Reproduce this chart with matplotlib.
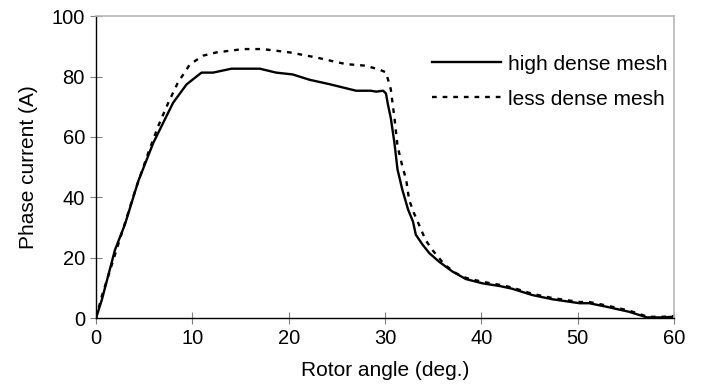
import matplotlib
matplotlib.use("Agg")
import matplotlib.pyplot as plt

plt.rcParams['font.family'] = ['Liberation Sans', 'DejaVu Sans']

# high dense mesh
x_high = [0, 0.6, 1.97, 3.0, 4.38, 5.94, 8.0, 9.4, 10.95, 12.15, 14.06, 17.0, 18.7, 20.4,
          22.2, 24.2, 27.0, 28.5, 29.1, 29.8, 30.1, 30.3, 30.6, 30.98, 31.3, 31.8, 32.4,
          32.9, 33.2, 33.9, 34.6, 35.6, 37.0, 38.4, 40.1, 41.9, 43.2, 45.3, 47.4, 50.2,
          51.2, 52.9, 55.3, 57.2, 58.8, 59.8]
y_high = [0, 6.0, 22.6, 31.0, 45.3, 58.0, 71.3, 77.4, 81.3, 81.3, 82.6, 82.6, 81.3, 80.7,
          78.9, 77.5, 75.3, 75.3, 75.0, 75.3, 74.4, 70.8, 66.3, 58.0, 49.2, 42.5, 35.9,
          32.0, 27.6, 24.3, 21.5, 18.7, 15.4, 12.9, 11.5, 10.6, 9.7, 7.6, 6.2, 4.9,
          4.9, 3.8, 2.1, 0.2, 0.2, 0.4]

# less dense mesh
x_less = [0, 0.59, 3.0, 4.04, 5.42, 6.46, 7.5, 8.5, 9.74, 11.1, 12.5, 15.3, 17.3, 20.1,
          22.9, 25.1, 26.0, 28.0, 29.4, 30.1, 30.6, 31.0, 31.3, 31.8, 32.2, 32.5, 33.0,
          33.6, 34.2, 34.9, 36.2, 37.4, 38.4, 40.1, 41.9, 43.2, 45.3, 47.4, 50.2, 51.2,
          52.9, 55.3, 57.3, 58.8, 60.0]
y_less = [0, 7.1, 31.4, 42.0, 54.7, 63.6, 71.3, 78.0, 84.0, 86.9, 88.0, 89.1, 89.1, 88.0,
          86.3, 84.7, 84.1, 83.6, 82.3, 81.4, 75.8, 65.8, 57.0, 50.3, 45.8, 39.2, 34.8,
          30.4, 25.9, 22.6, 17.6, 14.8, 13.3, 12.0, 11.0, 10.1, 8.0, 6.6, 5.3,
          5.3, 4.2, 2.5, 0.4, 0.4, 0.6]

x_ticks = [0, 10, 20, 30, 40, 50, 60]
y_ticks = [0, 20, 40, 60, 80, 100]

fig = plt.figure(figsize=(7.03, 3.85), dpi=100)
ax = fig.add_axes([0.1366, 0.174, 0.8221, 0.784])

ax.plot(x_high, y_high, color='black', lw=1.7, label='high dense mesh')
ax.plot(x_less, y_less, color='black', lw=1.7, linestyle=(0, (2, 2.5)), label='less dense mesh')

ax.set_xlim(0, 60)
ax.set_ylim(0, 100)
ax.set_xticks(x_ticks)
ax.set_yticks(y_ticks)
ax.tick_params(axis='both', direction='inout', length=8, width=0.8, color='#808080',
               labelsize=14.5, pad=4)

for s in ['left', 'bottom']:
    ax.spines[s].set_color('black')
    ax.spines[s].set_linewidth(1.0)
for s in ['top', 'right']:
    ax.spines[s].set_color('#b8b8b8')
    ax.spines[s].set_linewidth(1.2)

ax.set_xlabel('Rotor angle (deg.)', fontsize=15, labelpad=9)
ax.set_ylabel('Phase current (A)', fontsize=15, labelpad=10)

ax.legend(loc='upper right', bbox_to_anchor=(1.022, 0.935), frameon=False, fontsize=15,
          handlelength=3.3, handletextpad=0.35, labelspacing=0.78)

fig.savefig('out.png', dpi=100)
